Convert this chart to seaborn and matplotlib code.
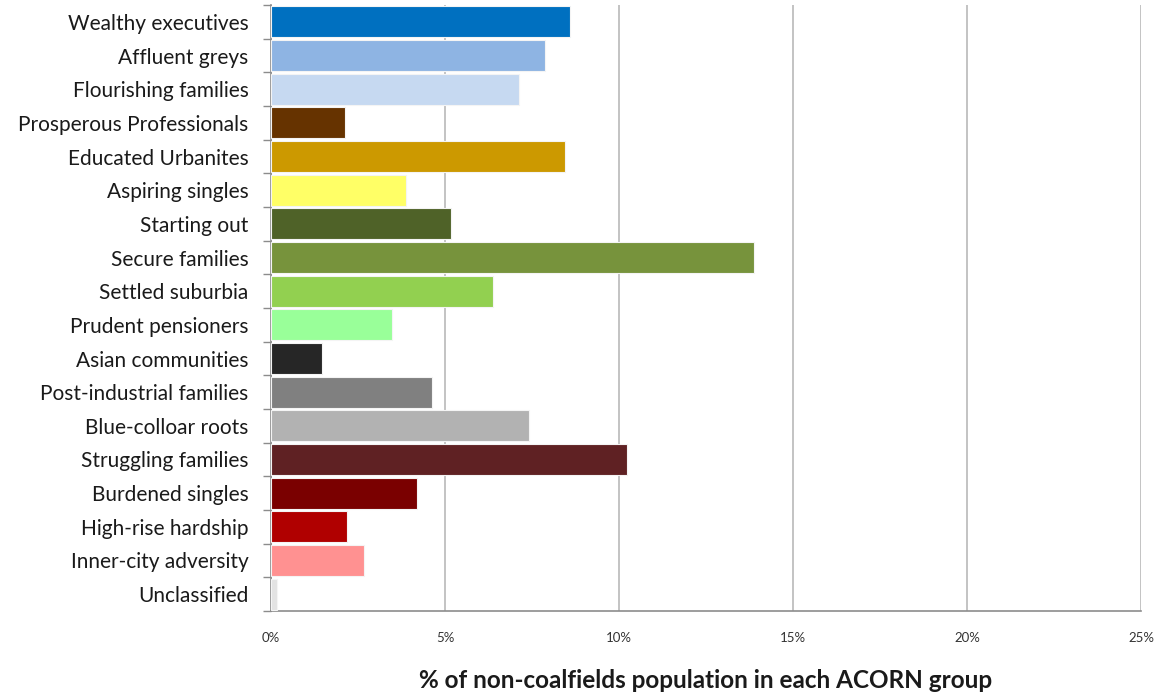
import matplotlib
matplotlib.use("Agg")
import matplotlib.pyplot as plt
import seaborn as sns
import pandas as pd
import numpy as np
from matplotlib.ticker import FixedLocator, PercentFormatter

groups = [
    "Wealthy executives", "Affluent greys", "Flourishing families",
    "Prosperous Professionals", "Educated Urbanites", "Aspiring singles",
    "Starting out", "Secure families", "Settled suburbia", "Prudent pensioners",
    "Asian communities", "Post-industrial families", "Blue-colloar roots",
    "Struggling families", "Burdened singles", "High-rise hardship",
    "Inner-city adversity", "Unclassified",
]
share_pct = [
    8.60, 7.88, 7.14, 2.13, 8.44, 3.87, 5.17, 13.88, 6.37, 3.48,
    1.47, 4.63, 7.42, 10.23, 4.20, 2.18, 2.67, 0.17,
]
group_colors = [
    "#0070C0", "#8EB4E3", "#C6D9F1", "#663300", "#CC9900", "#FFFF66",
    "#4F6228", "#77933C", "#92D050", "#99FF99", "#262626", "#808080",
    "#B2B2B2", "#5F2123", "#7A0000", "#B00000", "#FF9191", "#E3E3E3",
]
x_ticks = [0, 5, 10, 15, 20, 25]

df = pd.DataFrame({"group": groups, "share": share_pct})

sns.set_theme(style="white")
plt.rcParams["font.family"] = ["Lato", "DejaVu Sans"]

fig = plt.figure(figsize=(11.73, 6.97), dpi=100)
ax = fig.add_axes([0.231, 0.1234, 0.7417, 0.8694])

sns.barplot(
    data=df, x="share", y="group", hue="group", orient="h",
    palette=dict(zip(groups, group_colors)), legend=False, saturation=1,
    width=0.92, edgecolor="#F4F4F4", linewidth=0.8, ax=ax, zorder=3,
)

ax.set_xlim(0, 25)
ax.set_ylim(len(groups) - 0.5, -0.5)
ax.xaxis.set_major_locator(FixedLocator(x_ticks))
ax.xaxis.set_major_formatter(PercentFormatter(decimals=0))
ax.grid(axis="x", color="#BEBEBE", linewidth=1.3, zorder=0)
ax.set_axisbelow(True)

for side in ("top", "right"):
    ax.spines[side].set_visible(False)
for side in ("left", "bottom"):
    ax.spines[side].set_color("#8C8C8C")
    ax.spines[side].set_linewidth(1.2)

ax.tick_params(axis="x", which="major", direction="out", length=5, width=1,
               color="#8C8C8C", pad=10, labelsize=9.5, labelcolor="#333333")
ax.tick_params(axis="y", which="major", length=0, pad=16, labelsize=15,
               labelcolor="#1A1A1A")
ax.yaxis.set_minor_locator(FixedLocator(np.arange(len(groups) + 1) - 0.5))
ax.tick_params(axis="y", which="minor", direction="out", length=6, width=1,
               color="#8C8C8C", left=True)

ax.set_ylabel("")
ax.set_xlabel("% of non-coalfields population in each ACORN group",
              fontsize=17.5, fontweight="bold", color="#1A1A1A", labelpad=18)

fig.savefig("out.png", dpi=100, facecolor="white")
